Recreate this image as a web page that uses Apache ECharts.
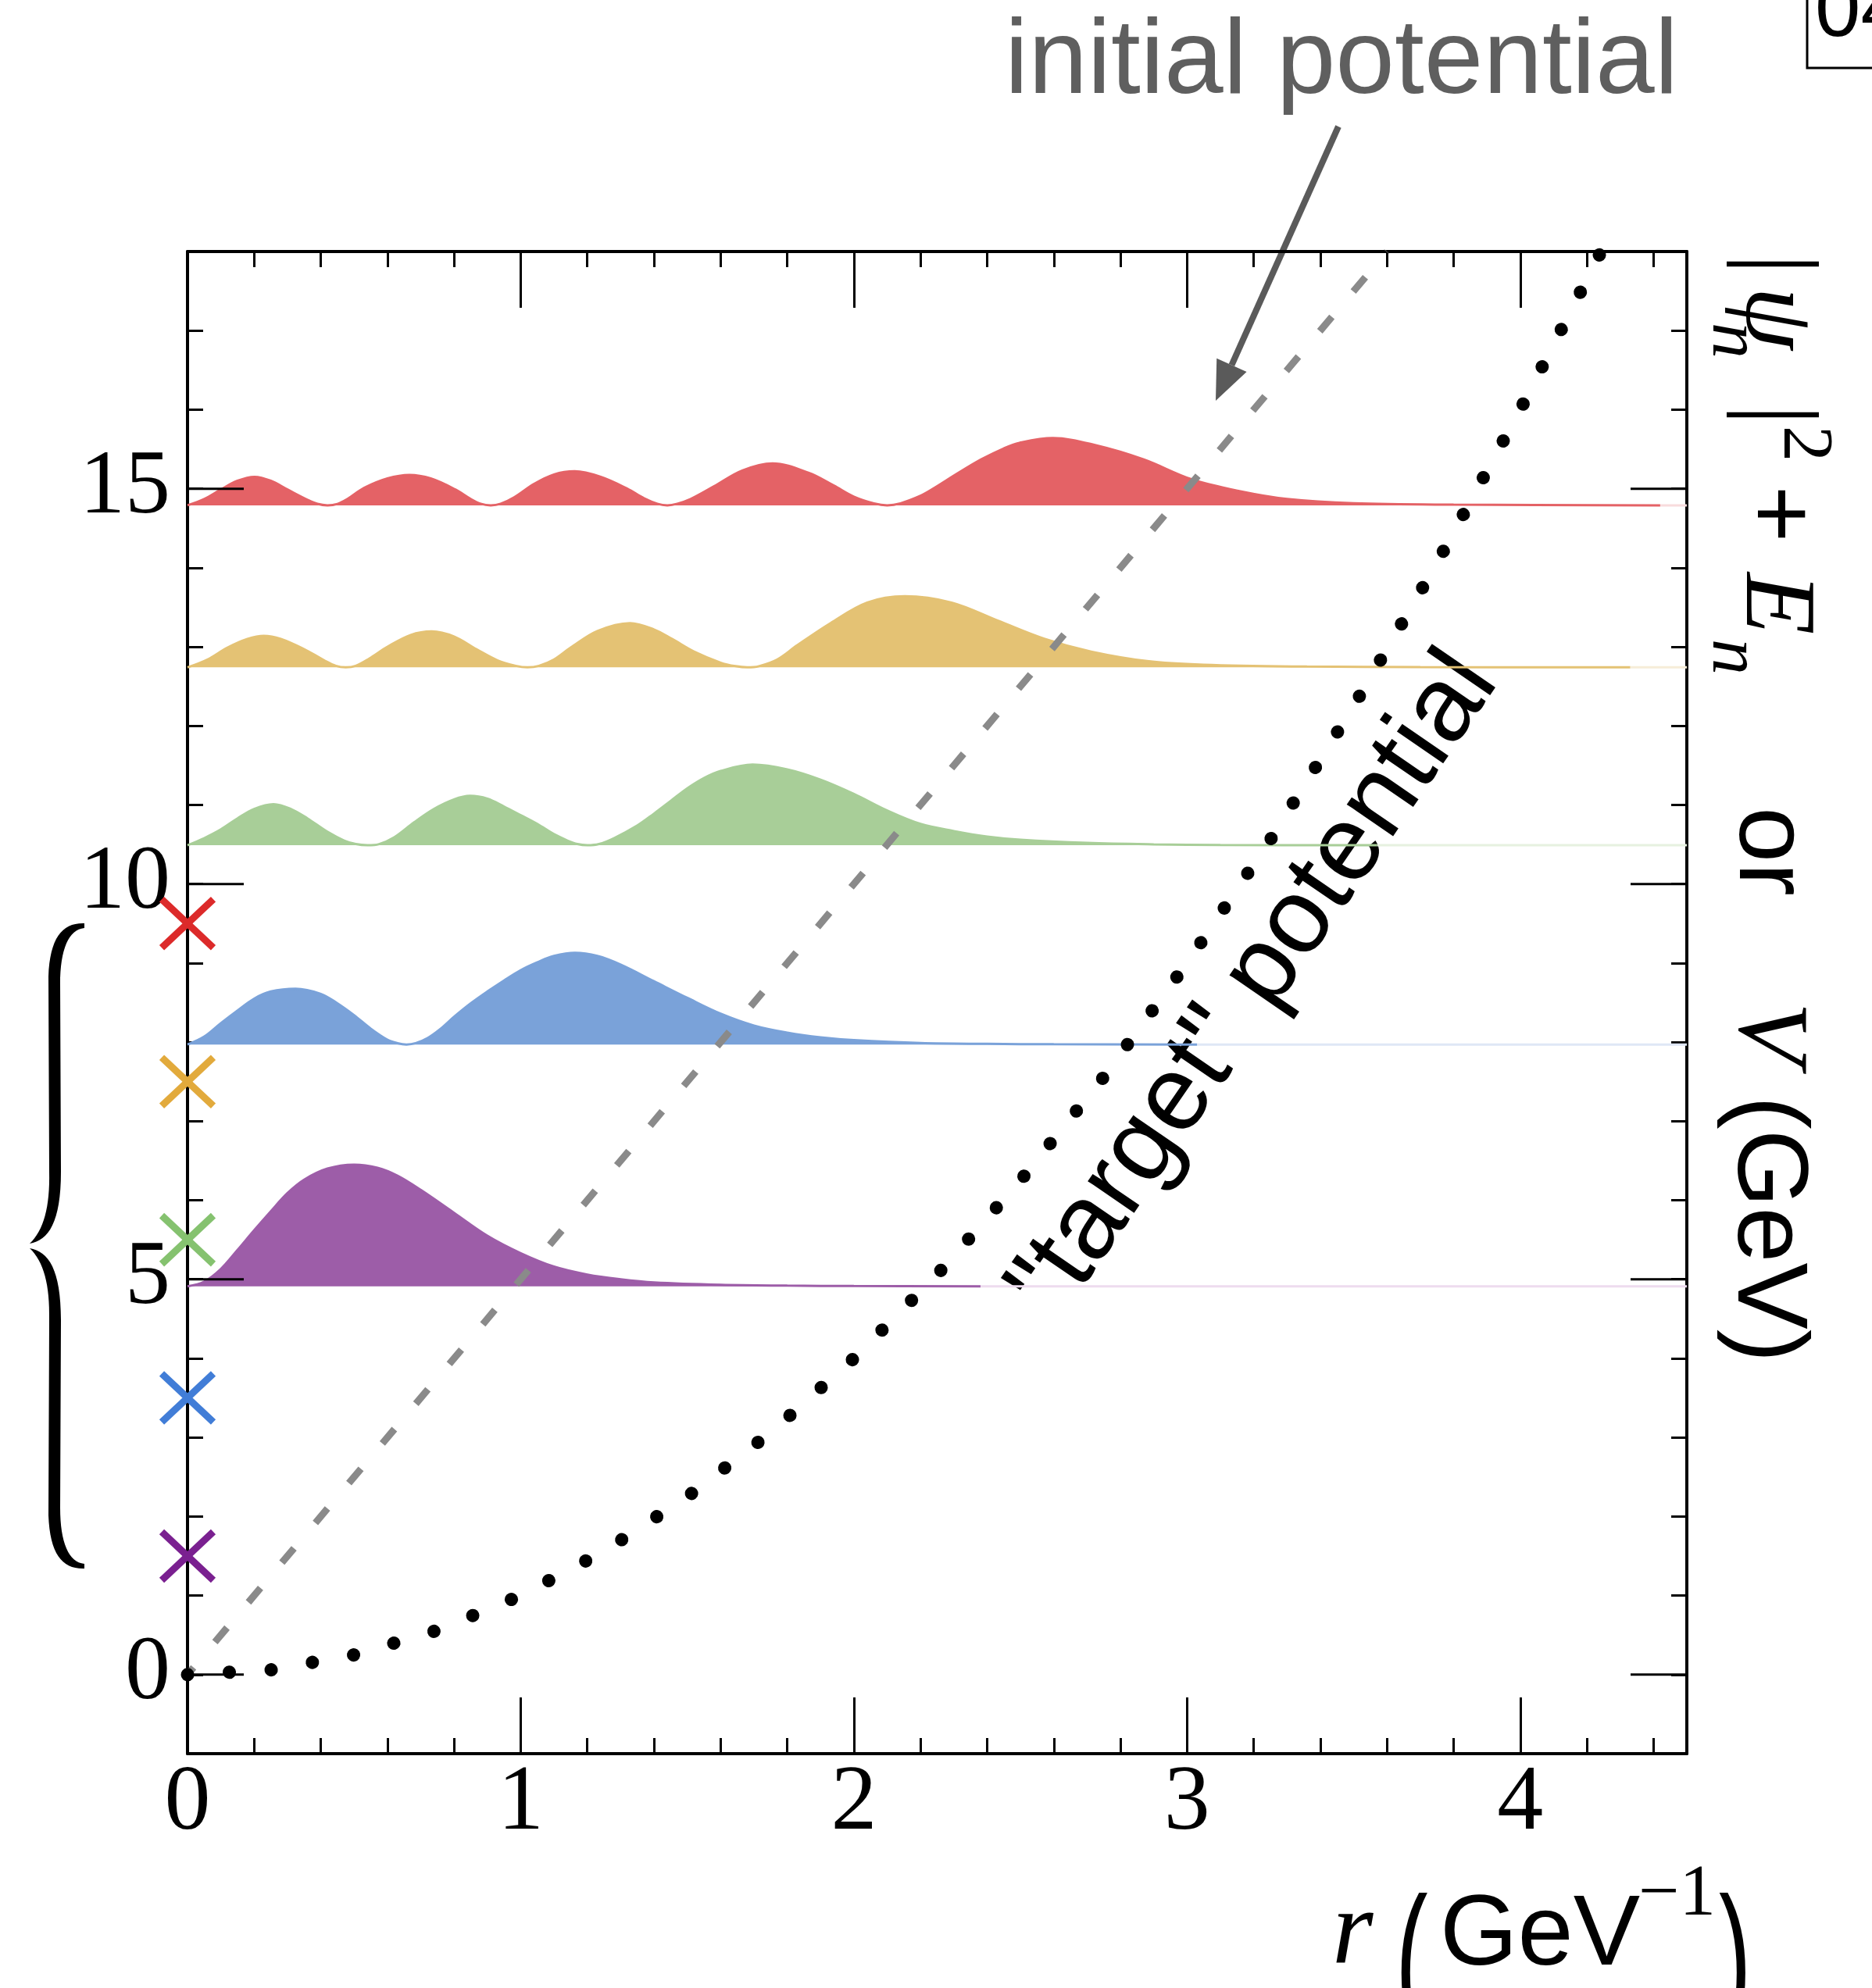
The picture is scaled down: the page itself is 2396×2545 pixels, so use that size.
<!DOCTYPE html>
<html><head><meta charset="utf-8">
<script src="https://cdn.jsdelivr.net/npm/echarts@6/dist/echarts.min.js"></script>
<style>html,body{margin:0;padding:0;background:#fff}#c{width:2396px;height:2545px}</style>
</head><body><div id="c"></div>
<script>
// ---------------- data ----------------
const majorYTicks = [0, 5, 10, 15];
const energies = [4.91, 7.97, 10.49, 12.74, 14.79];           // baselines E_n
const tailEnds = [2.38, 3.03, 3.57, 4.33, 4.42];
const waveColors = ['#9d5da8', '#7aa2d9', '#a8ce98', '#e4c274', '#e46266'];
const tailColors = ['#eedcef', '#dfe7f6', '#e6f1e0', '#f6edd8', '#f8dcdd'];
const crossLevels = [1.5, 3.5, 5.5, 7.5, 9.5];                 // target energies
const crossColors = ['#7a2090', '#417dd7', '#85c26f', '#e2aa3c', '#dc2a2a'];

// |psi_n|^2 amplitude above E_n : [r, amplitude]
const psi1 = [[0,0],[0.05,0.06],[0.1,0.22],[0.15,0.46],[0.2,0.71],[0.25,0.95],[0.3,1.18],[0.35,1.35],[0.42,1.49],[0.5,1.54],[0.57,1.5],[0.63,1.4],[0.7,1.22],[0.8,0.93],[0.9,0.64],[1.0,0.42],[1.1,0.25],[1.2,0.15],[1.3,0.09],[1.4,0.05],[1.6,0.02],[1.8,0.01],[2.0,0.005],[2.38,0]];
const psi2 = [[0,0],[0.05,0.1],[0.1,0.27],[0.15,0.43],[0.2,0.58],[0.25,0.67],[0.324,0.705],[0.4,0.64],[0.45,0.52],[0.5,0.37],[0.55,0.2],[0.6,0.06],[0.63,0.017],[0.657,0],[0.685,0.017],[0.72,0.08],[0.76,0.2],[0.8,0.35],[0.85,0.52],[0.9,0.67],[0.95,0.81],[1.0,0.94],[1.05,1.04],[1.1,1.12],[1.163,1.16],[1.23,1.12],[1.3,1.01],[1.4,0.80],[1.5,0.59],[1.6,0.39],[1.7,0.24],[1.8,0.15],[1.9,0.09],[2.0,0.055],[2.2,0.018],[2.4,0.008],[2.6,0.003],[3.03,0]];
const psi3 = [[0,0],[0.05,0.09],[0.1,0.2],[0.15,0.34],[0.2,0.46],[0.258,0.52],[0.31,0.46],[0.36,0.34],[0.42,0.17],[0.47,0.06],[0.505,0.015],[0.54,0],[0.575,0.015],[0.62,0.1],[0.68,0.29],[0.74,0.46],[0.8,0.58],[0.848,0.625],[0.9,0.59],[0.95,0.49],[1.0,0.38],[1.05,0.27],[1.1,0.14],[1.14,0.06],[1.17,0.015],[1.2,0],[1.235,0.015],[1.28,0.09],[1.35,0.25],[1.4,0.40],[1.45,0.56],[1.5,0.72],[1.55,0.85],[1.6,0.94],[1.696,1.02],[1.8,0.96],[1.9,0.83],[2.0,0.65],[2.1,0.44],[2.2,0.27],[2.3,0.18],[2.4,0.11],[2.5,0.07],[2.7,0.03],[2.9,0.012],[3.1,0.004],[3.57,0]];
const psi4 = [[0,0],[0.06,0.1],[0.12,0.25],[0.18,0.36],[0.229,0.40],[0.28,0.36],[0.35,0.23],[0.41,0.09],[0.445,0.02],[0.475,0],[0.505,0.02],[0.545,0.11],[0.6,0.26],[0.67,0.41],[0.733,0.455],[0.8,0.39],[0.867,0.23],[0.93,0.09],[0.985,0.02],[1.02,0],[1.055,0.02],[1.1,0.1],[1.15,0.25],[1.23,0.46],[1.328,0.56],[1.4,0.48],[1.454,0.36],[1.52,0.2],[1.6,0.06],[1.645,0.015],[1.68,0],[1.715,0.015],[1.77,0.1],[1.83,0.28],[1.93,0.56],[2.04,0.82],[2.153,0.90],[2.293,0.82],[2.433,0.59],[2.573,0.36],[2.712,0.2],[2.88,0.08],[3.05,0.033],[3.36,0.01],[3.7,0.003],[4.33,0]];
const psi5 = [[0,0],[0.05,0.08],[0.1,0.2],[0.15,0.31],[0.201,0.36],[0.25,0.31],[0.3,0.2],[0.36,0.07],[0.39,0.018],[0.42,0],[0.45,0.018],[0.48,0.08],[0.53,0.22],[0.6,0.34],[0.666,0.385],[0.73,0.34],[0.804,0.2],[0.85,0.08],[0.88,0.02],[0.91,0],[0.94,0.02],[0.98,0.1],[1.04,0.27],[1.1,0.39],[1.162,0.43],[1.24,0.36],[1.32,0.21],[1.37,0.09],[1.41,0.02],[1.44,0],[1.47,0.02],[1.51,0.08],[1.58,0.24],[1.665,0.44],[1.756,0.53],[1.865,0.41],[1.94,0.25],[2.0,0.11],[2.06,0.025],[2.1,0],[2.14,0.025],[2.2,0.12],[2.238,0.21],[2.31,0.40],[2.382,0.58],[2.45,0.72],[2.497,0.79],[2.597,0.85],[2.726,0.76],[2.87,0.58],[3.013,0.33],[3.157,0.18],[3.3,0.08],[3.5,0.025],[3.8,0.008],[4.42,0]];

// potentials
const initialR = [0, 3.6];
const initialV = [0, 18];
const targetR = [0, 0.25, 0.5, 0.75, 1.0, 1.25, 1.5, 1.75, 2.0, 2.25, 2.5, 2.75, 3.0, 3.25, 3.5, 3.75, 4.0, 4.25];
const targetV = [0, 0.06, 0.25, 0.56, 1.0, 1.56, 2.25, 3.06, 4.0, 5.06, 6.25, 7.56, 9.0, 10.56, 12.25, 14.06, 16.0, 18.06];

// ---------------- chart ----------------
const chart = echarts.init(document.getElementById('c'), null, {renderer: 'canvas', width: 2396, height: 2545});

const SERIF = '"Liberation Serif", "DejaVu Serif", serif';
const SANS = '"Liberation Sans", Arial, sans-serif';
const XMIN = 0, XMAX = 4.5, YMIN = -1, YMAX = 18;

function xAx(pos, interval, len, withLine, withLabel) {
  return {
    type: 'value', position: pos, min: XMIN, max: XMAX, interval: interval,
    axisLine: {show: withLine, onZero: false, lineStyle: {color: '#000', width: 4}},
    axisTick: {show: true, inside: true, length: len, lineStyle: {color: '#000', width: 3}},
    axisLabel: {show: withLabel, showMaxLabel: false, fontFamily: SERIF, fontSize: 118, color: '#000', margin: 6},
    splitLine: {show: false}
  };
}
function yAx(pos, withLabel) {
  return {
    type: 'value', position: pos, min: YMIN, max: YMAX, interval: 1,
    axisLine: {show: true, onZero: false, lineStyle: {color: '#000', width: 4}},
    axisTick: {show: true, inside: true, length: 20, lineStyle: {color: '#000', width: 3}},
    axisLabel: {show: withLabel, fontFamily: SERIF, fontSize: 116, color: '#000', margin: 22,
      formatter: v => majorYTicks.indexOf(v) >= 0 ? String(v) : ''},
    splitLine: {show: false}
  };
}

const series = [];
const waves = [psi1, psi2, psi3, psi4, psi5];
waves.forEach((w, i) => {
  const E = energies[i];
  series.push({
    type: 'line', data: w.map(p => [p[0], E + p[1]]), smooth: 0.35, symbol: 'none',
    lineStyle: {color: waveColors[i], width: 3},
    areaStyle: {color: waveColors[i], opacity: 1, origin: E},
    z: 2, silent: true
  });
  series.push({
    type: 'line', data: [[tailEnds[i], E], [XMAX, E]], symbol: 'none',
    lineStyle: {color: tailColors[i], width: 3}, z: 1, silent: true
  });
});
// initial potential (grey dashed)
series.push({
  type: 'line', data: initialR.map((r, i) => [r, initialV[i]]), symbol: 'none',
  lineStyle: {color: '#8a8a8a', width: 9, type: [24, 42.5], dashOffset: 12}, z: 6, silent: true
});
// target potential (black dots)
series.push({
  type: 'line', data: targetR.map((r, i) => [r, targetV[i]]), symbol: 'none',
  lineStyle: {color: '#000', width: 17, type: [0.1, 53.5], cap: 'round'}, z: 7, silent: true
});
// major y ticks on both sides
series.push({
  type: 'custom', data: majorYTicks.map(v => [XMIN, v]), z: 8, silent: true,
  renderItem: (params, api) => {
    const y = api.value(1);
    const a = api.coord([XMIN, y]), b = api.coord([XMAX, y]);
    const st = {stroke: '#000', lineWidth: 3};
    return {type: 'group', children: [
      {type: 'line', shape: {x1: a[0], y1: a[1], x2: a[0] + 72, y2: a[1]}, style: st},
      {type: 'line', shape: {x1: b[0] - 72, y1: b[1], x2: b[0], y2: b[1]}, style: st}
    ]};
  }
});
// target energy crosses
series.push({
  type: 'custom', data: crossLevels.map((v, i) => [0, v, i]), z: 10, silent: true, clip: false,
  renderItem: (params, api) => {
    const c = api.coord([api.value(0), api.value(1)]);
    const st = {stroke: crossColors[api.value(2)], lineWidth: 9};
    return {type: 'group', children: [
      {type: 'line', shape: {x1: c[0] - 33, y1: c[1] - 31, x2: c[0] + 33, y2: c[1] + 31}, style: st},
      {type: 'line', shape: {x1: c[0] - 33, y1: c[1] + 31, x2: c[0] + 33, y2: c[1] - 31}, style: st}
    ]};
  }
});
// curly brace (decoration, pixel path)
const bracePath = 'M108,1182 C80,1181 64,1200 62,1250 L63,1500 C64,1545 56,1575 38,1592 C62,1588 78,1565 78,1500 L77,1260 C77,1215 88,1190 108,1188 Z ' +
    'M108,2008 C80,2009 64,1990 62,1940 L63,1690 C64,1645 56,1615 38,1598 C62,1602 78,1625 78,1690 L77,1930 C77,1975 88,2000 108,2002 Z';
series.push({
  type: 'custom', coordinateSystem: 'none', data: [[0]], silent: true, z: 10,
  renderItem: () => ({type: 'path', shape: {pathData: bracePath, layout: 'cover', x: 38, y: 1182, width: 70, height: 826}, style: {fill: '#000'}})
});

// ---------------- annotations ----------------
function T(text, x, y, font, fill) {
  return {type: 'text', x: x, y: y, silent: true,
    style: {text: text, font: font, fill: fill || '#000', textAlign: 'left', textVerticalAlign: 'middle', verticalAlign: 'middle'}};
}
const mid = (baseline, size) => baseline - 0.34 * size;

// arrow
const aStart = [1713, 162], aTip = [1556, 513];
const dx = aTip[0] - aStart[0], dy = aTip[1] - aStart[1], L = Math.hypot(dx, dy);
const ux = dx / L, uy = dy / L, HL = 50, HW = 21;
const bc = [aTip[0] - HL * ux, aTip[1] - HL * uy];

const rLocal = (t, lx, base, size, font) => ({type: 'text', x: lx, y: -base - 0.34 * size,
  silent: true, style: {text: t, font: font, fill: '#000', textAlign: 'left', textVerticalAlign: 'middle', verticalAlign: 'middle'}});

function paren(ch, x) {
  return {type: 'text', x: x, y: 2412, scaleY: 1.75, silent: true,
    style: {text: ch, font: '125px ' + SANS, fill: '#000', textAlign: 'left', textVerticalAlign: 'top', verticalAlign: 'top'}};
}

const graphics = [
  T('initial potential', 1286, mid(128, 136), '136px ' + SANS, '#5f5f5f'),
  {type: 'polyline', silent: true, shape: {points: [aStart, bc]}, style: {stroke: '#5a5a5a', lineWidth: 8, fill: null}},
  {type: 'polygon', silent: true, shape: {points: [aTip, [bc[0] + HW * uy, bc[1] - HW * ux], [bc[0] - HW * uy, bc[1] + HW * ux]]}, style: {fill: '#5a5a5a'}},
  {type: 'text', x: 1606, y: 1262, rotation: 55.5 * Math.PI / 180, silent: true,
    style: {text: '"target" potential', font: '136px ' + SANS, fill: '#000', textAlign: 'center', textVerticalAlign: 'middle', verticalAlign: 'middle'}},
  {type: 'group', x: 2226, y: 333, rotation: -Math.PI / 2, silent: true, children: [
    rLocal('|', -8, 2, 130, '130px ' + SERIF),
    rLocal('\u03c8', 34, 0, 130, 'italic 130px ' + SERIF),
    rLocal('n', 80, -40, 92, 'italic 92px ' + SERIF),
    rLocal('|', 185, 2, 130, '130px ' + SERIF),
    rLocal('2', 212, 51, 92, '92px ' + SERIF),
    rLocal('+', 288, 0, 130, 'bold 130px ' + SERIF),
    rLocal('E', 400, 0, 130, 'italic 130px ' + SERIF),
    rLocal('n', 485, -40, 92, 'italic 92px ' + SERIF),
    rLocal('or', 700, -7, 128, '128px ' + SANS),
    rLocal('V', 950, -9, 130, 'italic 130px ' + SERIF),
    rLocal('(GeV)', 1070, -9, 128, '128px ' + SANS)
  ]},
  T('r', 1705, mid(2523, 135), 'italic 135px ' + SERIF),
  paren('(', 1786),
  T('GeV', 1843, mid(2523, 128), '128px ' + SANS),
  T('\u22121', 2097, mid(2458, 93), '93px ' + SERIF),
  paren(')', 2200),
  {type: 'rect', silent: true, shape: {x: 2313, y: -10, width: 200, height: 97}, style: {stroke: '#000', lineWidth: 3, fill: null}},
  T('04', 2323, mid(53, 105), '105px ' + SANS)
];

chart.setOption({
  animation: false,
  backgroundColor: '#fff',
  grid: {left: 240, top: 322, width: 1919, height: 1923, containLabel: false, outerBoundsMode: 'none'},
  xAxis: [xAx('bottom', 1, 72, true, true), xAx('bottom', 0.2, 20, false, false), xAx('top', 1, 72, true, false), xAx('top', 0.2, 20, false, false)],
  yAxis: [yAx('left', true), yAx('right', false)],
  series: series,
  graphic: graphics
});
</script>
</body></html>
